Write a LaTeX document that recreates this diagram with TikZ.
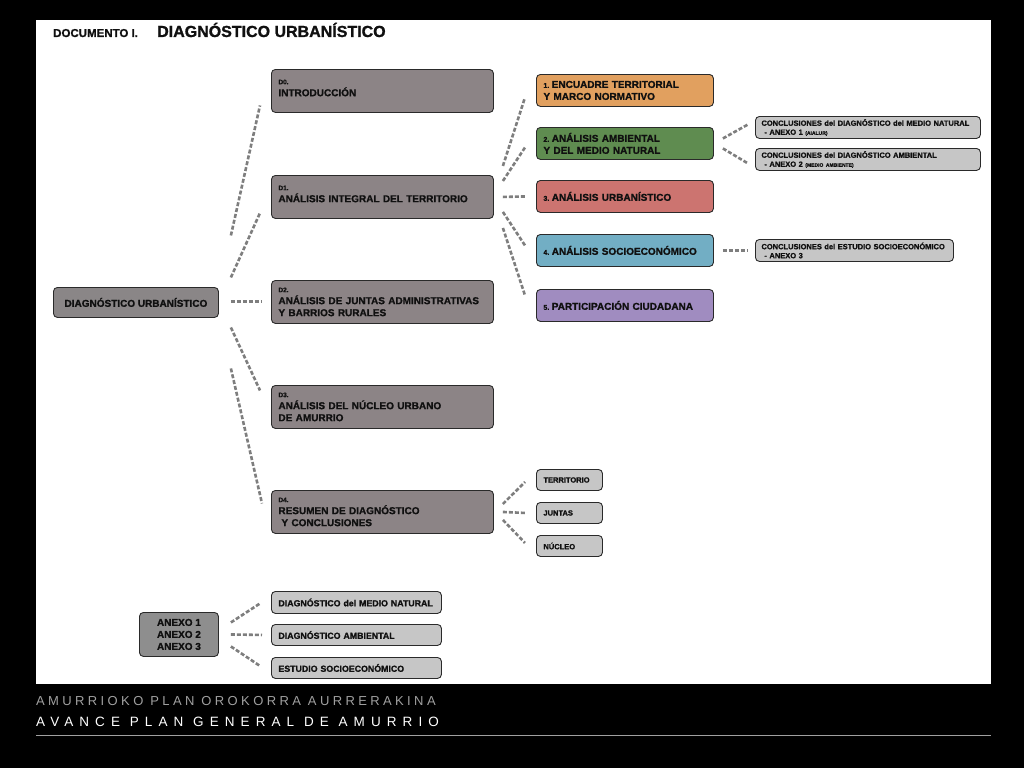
\documentclass[tikz,border=0pt]{standalone}
\usepackage{fontspec}
\setmainfont{Liberation Sans}[BoldFont={Liberation Sans Bold}, BoldFeatures={FakeBold=1.2}]
\newfontfamily\footA[LetterSpace=26]{Liberation Sans}
\newfontfamily\footB[LetterSpace=45]{Liberation Sans}
\usetikzlibrary{calc}
\newcommand\myfs[2]{\fontsize{#1}{#2}\selectfont}
\newcommand\numsp{\hspace{2.5pt}}
\definecolor{dgray}{HTML}{8C8486}
\definecolor{rootgray}{HTML}{8A8687}
\definecolor{anxgray}{HTML}{8E8E8E}
\definecolor{lgray}{HTML}{C6C6C6}
\definecolor{corange}{HTML}{E1A05F}
\definecolor{cgreen}{HTML}{5F8C50}
\definecolor{cred}{HTML}{CC7470}
\definecolor{cblue}{HTML}{72AEC4}
\definecolor{cpurple}{HTML}{A08CC0}
\definecolor{conncol}{HTML}{7E7E7E}
\definecolor{boxline}{HTML}{2A2A2A}
\definecolor{txt}{HTML}{101010}
\definecolor{footgray}{HTML}{A0A0A0}
\tikzset{
  box/.style={draw=boxline, line width=0.9pt, rounded corners=4pt, anchor=north west,
    inner xsep=7pt, inner ysep=0pt, align=left, text=txt, font=\bfseries\myfs{10}{12}},
  dbox/.style={box, fill=dgray, minimum width=222pt, minimum height=43pt, text width=208pt},
  cbox/.style={box, minimum width=177pt, minimum height=32pt, text width=163pt},
  conbox/.style={box, fill=lgray, minimum height=22pt, font=\bfseries\myfs{7.5}{9}, inner xsep=6pt},
  subbox/.style={box, fill=lgray, minimum width=64pt, minimum height=21pt, text width=52pt, font=\bfseries\myfs{7.5}{9}},
  anbox/.style={box, fill=lgray, minimum width=170pt, minimum height=22pt, text width=156pt, font=\bfseries\myfs{8.8}{10}},
  conn/.style={draw=conncol, line width=2.6pt, dash pattern=on 4pt off 2pt},
  plain/.style={inner sep=0pt, anchor=base west}
}
\begin{document}
\begin{tikzpicture}[x=1pt,y=-1pt]
\useasboundingbox (0,0) rectangle (1024,768);
\fill[black] (0,0) rectangle (1024,768);
\fill[white] (36,20) rectangle (991,684);

% title
\node[plain, text=txt, font=\bfseries\myfs{11.5}{13}] (doc) at (53,37) {DOCUMENTO I.};
\node[plain, text=txt, font=\bfseries\myfs{16}{18}] (title) at (157,37) {DIAGNÓSTICO URBANÍSTICO};

% root
\node[box, fill=rootgray, minimum width=165pt, minimum height=30pt, align=center] (root) at (53,287) {DIAGNÓSTICO URBANÍSTICO};

% D boxes
\node[dbox] (d0) at (271,69) {{\myfs{6.5}{7}D0.}\\[0pt]INTRODUCCIÓN\\[-6pt]\mbox{}};
\node[dbox] (d1) at (271,175) {{\myfs{6.5}{7}D1.}\\[0pt]ANÁLISIS INTEGRAL DEL TERRITORIO\\[-6pt]\mbox{}};
\node[dbox] (d2) at (271,280) {{\myfs{6.5}{7}D2.}\\[0pt]ANÁLISIS DE JUNTAS ADMINISTRATIVAS\\Y BARRIOS RURALES};
\node[dbox] (d3) at (271,385) {{\myfs{6.5}{7}D3.}\\[0pt]ANÁLISIS DEL NÚCLEO URBANO\\DE AMURRIO};
\node[dbox] (d4) at (271,490) {{\myfs{6.5}{7}D4.}\\[0pt]RESUMEN DE DIAGNÓSTICO\\\hspace*{3pt}Y CONCLUSIONES};

% coloured boxes
\node[cbox, fill=corange] (e1) at (536,74) {{\myfs{7}{8}1.}\numsp ENCUADRE TERRITORIAL\\Y MARCO NORMATIVO};
\node[cbox, fill=cgreen] (e2) at (536,127) {{\myfs{7}{8}2.}\numsp ANÁLISIS AMBIENTAL\\Y DEL MEDIO NATURAL};
\node[cbox, fill=cred] (e3) at (536,180) {{\myfs{7}{8}3.}\numsp ANÁLISIS URBANÍSTICO};
\node[cbox, fill=cblue] (e4) at (536,234) {{\myfs{7}{8}4.}\numsp ANÁLISIS SOCIOECONÓMICO};
\node[cbox, fill=cpurple] (e5) at (536,289) {{\myfs{7}{8}5.}\numsp PARTICIPACIÓN CIUDADANA};

% conclusion boxes
\node[conbox, minimum width=225pt, text width=213pt] (c1) at (755,116) {CONCLUSIONES del DIAGNÓSTICO del MEDIO NATURAL\\\hspace*{3pt}- ANEXO 1 {\myfs{5}{6}(AIALUR)}};
\node[conbox, minimum width=225pt, text width=213pt] (c2) at (755,148) {CONCLUSIONES del DIAGNÓSTICO AMBIENTAL\\\hspace*{3pt}- ANEXO 2 {\myfs{5}{6}(MEDIO AMBIENTE)}};
\node[conbox, minimum width=198pt, text width=186pt] (c3) at (755,239) {CONCLUSIONES del ESTUDIO SOCIOECONÓMICO\\\hspace*{3pt}- ANEXO 3};

% D4 sub boxes
\node[subbox] (t) at (536,469) {TERRITORIO};
\node[subbox] (j) at (536,502) {JUNTAS};
\node[subbox] (n) at (536,535) {NÚCLEO};

% annexes
\node[box, fill=anxgray, minimum width=79pt, minimum height=44pt, align=center] (anx) at (139,612) {ANEXO 1\\ANEXO 2\\ANEXO 3};
\node[anbox] (a1) at (271,591) {DIAGNÓSTICO del MEDIO NATURAL};
\node[anbox, minimum height=21pt] (a2) at (271,624) {DIAGNÓSTICO AMBIENTAL};
\node[anbox, minimum height=21pt] (a3) at (271,657) {ESTUDIO SOCIOECONÓMICO};

% connectors root -> D
\draw[conn] ($(root.east)+(12,-67)$) -- ($(d0.west)+(-11,14.5)$);
\draw[conn] ($(root.east)+(12,-25)$) -- ($(d1.west)+(-11,16)$);
\draw[conn] ($(root.east)+(12,-1)$) -- ($(d2.west)+(-9,-0.5)$);
\draw[conn] ($(root.east)+(12,25)$) -- ($(d3.west)+(-11,-16.5)$);
\draw[conn] ($(root.east)+(12,66)$) -- ($(d4.west)+(-9,-8.5)$);
% D1 -> coloured
\draw[conn] ($(d1.east)+(9,-31)$) -- ($(e1.west)+(-11,7)$);
\draw[conn] ($(d1.east)+(9,-16)$) -- ($(e2.west)+(-11,4)$);
\draw[conn] ($(d1.east)+(9,0)$) -- ($(e3.west)+(-11,0)$);
\draw[conn] ($(d1.east)+(9,15)$) -- ($(e4.west)+(-11,-5)$);
\draw[conn] ($(d1.east)+(9,31)$) -- ($(e5.west)+(-11,-10)$);
% coloured -> conclusions
\draw[conn] ($(e2.east)+(9,-5)$) -- ($(c1.west)+(-7,-3)$);
\draw[conn] ($(e2.east)+(9,5)$) -- ($(c2.west)+(-7,4)$);
\draw[conn] ($(e4.east)+(9,0)$) -- ($(c3.west)+(-7,0)$);
% D4 -> subs
\draw[conn] ($(d4.east)+(9,-8)$) -- ($(t.west)+(-11,2)$);
\draw[conn] ($(d4.east)+(9,0)$) -- ($(j.west)+(-11,0)$);
\draw[conn] ($(d4.east)+(9,8)$) -- ($(n.west)+(-11,-3)$);
% annex connectors
\draw[conn] ($(anx.east)+(12,-12)$) -- ($(a1.west)+(-11,1)$);
\draw[conn] ($(anx.east)+(12,0)$) -- ($(a2.west)+(-9,0)$);
\draw[conn] ($(anx.east)+(12,12)$) -- ($(a3.west)+(-11,-2)$);

% footer
\node[plain, text=footgray, font=\footA\myfs{13}{14}] (f1) at (36,705) {AMURRIOKO PLAN OROKORRA AURRERAKINA};
\node[plain, text=white, font=\footB\myfs{13.5}{15}] (f2) at (36,726) {AVANCE PLAN GENERAL DE AMURRIO};
\draw[footgray, line width=1pt] (36,735) -- (991,735);
\end{tikzpicture}
\end{document}
